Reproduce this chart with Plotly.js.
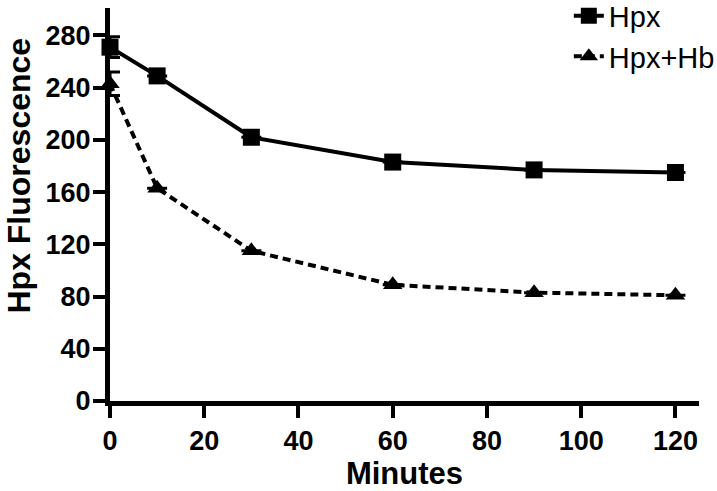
<!DOCTYPE html>
<html>
<head>
<meta charset="utf-8">
<script src="https://cdn.plot.ly/plotly-3.0.1.min.js"></script>
<style>html,body{margin:0;padding:0;background:#fff;}#chart{width:717px;height:491px;}</style>
</head>
<body>
<div id="chart"></div>
<script>
var minutes = [0, 10, 30, 60, 90, 120];
var hpx = [271, 249, 202, 183, 177, 175];
var hpxErr = [8, 0, 0, 0, 0, 0];
var hpxHb = [243, 163, 115, 89, 83, 81];
var hpxHbErr = [9, 0, 0, 0, 0, 0];
var xTicks = [0, 20, 40, 60, 80, 100, 120];
var yTicks = [0, 40, 80, 120, 160, 200, 240, 280];
var xTitle = 'Minutes';
var yTitle = 'Hpx Fluorescence';

var traces = [
  {
    x: minutes, y: hpx, name: 'Hpx', type: 'scatter', mode: 'lines+markers',
    line: {color: '#000', width: 4},
    marker: {symbol: 'square', size: 17, color: '#000'},
    error_y: {type: 'data', array: hpxErr, visible: true, color: '#000', thickness: 3, width: 10},
    cliponaxis: false
  },
  {
    x: minutes, y: hpxHb, name: 'Hpx+Hb', type: 'scatter', mode: 'lines+markers',
    line: {color: '#000', width: 4, dash: '8px,5px'},
    marker: {symbol: 'triangle-up', size: 17, color: '#000'},
    error_y: {type: 'data', array: hpxHbErr, visible: true, color: '#000', thickness: 3, width: 10},
    cliponaxis: false
  }
];

var FAM = 'Liberation Sans, Arial, sans-serif';
var tickFont = {family: FAM, size: 27, color: '#000', weight: 'bold'};

var layout = {
  width: 717, height: 491,
  margin: {l: 110, r: 18, t: 8, b: 90, autoexpand: false},
  paper_bgcolor: '#fff', plot_bgcolor: '#fff',
  showlegend: true,
  legend: {
    x: 0.779, y: 1.045, xanchor: 'left', yanchor: 'top',
    font: {family: FAM, size: 29, color: '#000'},
    bgcolor: 'rgba(0,0,0,0)', tracegroupgap: 0, borderwidth: 0
  },
  xaxis: {
    range: [0, 125], tickvals: xTicks, ticktext: xTicks.map(String),
    showgrid: false, zeroline: false, showline: true, linecolor: '#000', linewidth: 5,
    ticks: 'outside', ticklen: 12, tickwidth: 4, tickcolor: '#000',
    tickfont: tickFont,
    title: {text: xTitle, font: {family: FAM, size: 31, color: '#000', weight: 'bold'}, standoff: 12}
  },
  yaxis: {
    range: [0, 301], tickvals: yTicks, ticktext: yTicks.map(String),
    showgrid: false, zeroline: false, showline: true, linecolor: '#000', linewidth: 5,
    ticks: 'outside', ticklen: 12, tickwidth: 4, tickcolor: '#000',
    tickfont: tickFont, ticklabelstandoff: -3,
    title: {text: ''}
  },
  annotations: [{
    text: yTitle, xref: 'paper', yref: 'paper', x: -0.155, y: 0.573,
    xanchor: 'center', yanchor: 'middle', textangle: -90, showarrow: false,
    font: {family: FAM, size: 32, color: '#000', weight: 'bold'}
  }]
};

Plotly.newPlot('chart', traces, layout, {displayModeBar: false, staticPlot: true});
</script>
</body>
</html>
